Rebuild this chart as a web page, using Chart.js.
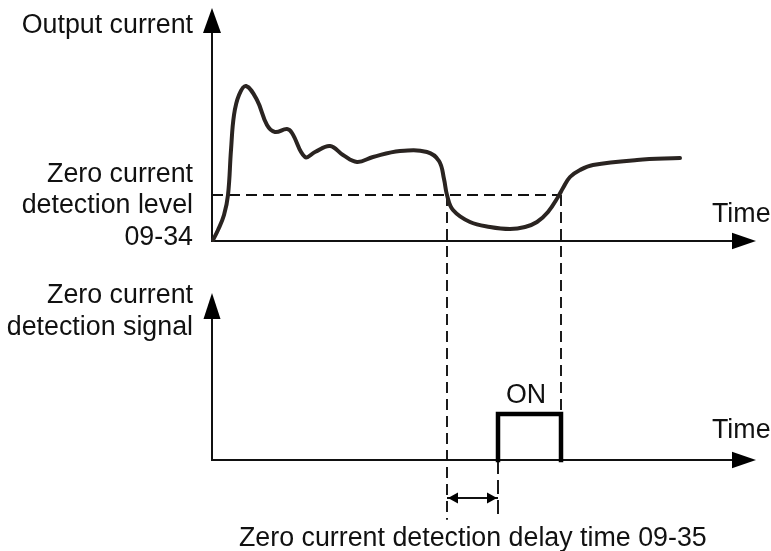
<!DOCTYPE html>
<html>
<head>
<meta charset="utf-8">
<script src="https://cdn.jsdelivr.net/npm/chart.js@4.4.1/dist/chart.umd.min.js"></script>
<style>
  html, body { margin: 0; padding: 0; background: #fff; }
  #wrap { width: 771px; height: 551px; }
</style>
</head>
<body>
<div id="wrap"><canvas id="chart" width="771" height="551"></canvas></div>
<script>
// time in arbitrary units, 0 = the vertical axes
const curveTime = [0.1, 0.6, 1.2, 1.6, 1.9, 2.2, 2.7, 3.4, 4.5, 5.5, 6.3, 7.5, 8.0, 9.3, 10.3, 11.8,
  13.1, 14.5, 16.1, 18.8, 21.5, 22.7, 23.2, 23.5, 24.1, 25.8, 27.8, 29.8, 31.3, 32.5, 33.6, 34.6,
  35.1, 35.8, 36.8, 38.1, 42.5, 46.8];
const curveCurrent = [0.1, 1.1, 2.6, 4.6, 9.1, 12.6, 14.6, 15.5, 14.1, 11.6, 10.9, 11.2, 10.8, 8.4, 8.9, 9.5,
  8.6, 7.9, 8.4, 9.0, 8.9, 8.0, 6.2, 4.6, 3.1, 1.9, 1.4, 1.2, 1.4, 1.9, 2.9, 4.4,
  5.3, 6.4, 7.1, 7.6, 8.1, 8.3];

const detectionLevel = 4.6;   // 09-34
const belowLevelStart = 23.5; // current falls under the level
const belowLevelEnd = 34.9;   // current rises above the level
const delayTime = 5.1;        // 09-35
const onTime = belowLevelStart + delayTime;
const signalOn = 1;

const timeAxisEnd = 54.4;
const currentAxisTop = 23.3;
const signalAxisTop = 3.63;
const guideBottom = -1.3;      // signal units
const delayArrowLevel = -0.83; // signal units

// visible ranges of the three scales
const timeRange = [-21.2, 55.9];
const currentRange = [-31, 24.1];
const signalRange = [-1.98, 10];

function currentToSignal(v) {
  return signalRange[0] + (v - currentRange[0]) * (signalRange[1] - signalRange[0]) / (currentRange[1] - currentRange[0]);
}

const FONT = '26.8px "Liberation Sans", Arial, sans-serif';
const INK = '#111';

function pts(xs, ys) {
  return xs.map((x, i) => ({ x: x, y: ys[i] }));
}

const thin = { pointRadius: 0, borderColor: INK, borderWidth: 1.9, tension: 0, fill: false };
const DASH = [11, 6];

const datasets = [
  Object.assign({}, thin, {
    label: 'pulse', yAxisID: 'ys', order: 0, borderWidth: 4.5,
    borderJoinStyle: 'miter', borderCapStyle: 'square', borderColor: '#000',
    data: pts([onTime, onTime, belowLevelEnd, belowLevelEnd], [0, signalOn, signalOn, 0])
  }),
  Object.assign({}, thin, {
    label: 'current', yAxisID: 'y', order: 1, borderWidth: 4, borderColor: '#2a2421',
    tension: 0.4, borderCapStyle: 'round',
    data: pts(curveTime, curveCurrent)
  }),
  Object.assign({}, thin, {
    label: 'level', yAxisID: 'y', order: 2, borderDash: DASH,
    data: pts([0, belowLevelEnd], [detectionLevel, detectionLevel])
  }),
  Object.assign({}, thin, {
    label: 'guide start', yAxisID: 'ys', order: 2, borderDash: DASH,
    data: pts([belowLevelStart, belowLevelStart], [currentToSignal(detectionLevel), guideBottom])
  }),
  Object.assign({}, thin, {
    label: 'guide end', yAxisID: 'ys', order: 2, borderDash: DASH,
    data: pts([belowLevelEnd, belowLevelEnd], [currentToSignal(detectionLevel), signalOn])
  }),
  Object.assign({}, thin, {
    label: 'guide on', yAxisID: 'ys', order: 2, borderDash: [14, 6],
    data: pts([onTime, onTime], [0, guideBottom])
  }),
  Object.assign({}, thin, {
    label: 'delay', yAxisID: 'ys', order: 2, borderWidth: 2,
    data: pts([belowLevelStart, onTime], [delayArrowLevel, delayArrowLevel])
  }),
  Object.assign({}, thin, {
    label: 'current axes', yAxisID: 'y', order: 3, borderWidth: 2,
    data: pts([0, 0, timeAxisEnd - 1.5], [currentAxisTop - 1.5, 0, 0])
  }),
  Object.assign({}, thin, {
    label: 'signal axes', yAxisID: 'ys', order: 3, borderWidth: 2,
    data: pts([0, 0, timeAxisEnd - 1.5], [signalAxisTop - 0.3, 0, 0])
  })
];

function arrowHead(ctx, tx, ty, dx, dy, len, half) {
  const bx = tx - dx * len, by = ty - dy * len;
  ctx.beginPath();
  ctx.moveTo(tx, ty);
  ctx.lineTo(bx - dy * half, by + dx * half);
  ctx.lineTo(bx + dy * half, by - dx * half);
  ctx.closePath();
  ctx.fill();
}

const diagram = {
  id: 'diagram',
  afterDatasetsDraw(chart) {
    const ctx = chart.ctx;
    const sx = chart.scales.x, sy = chart.scales.y, ss = chart.scales.ys;
    ctx.save();
    ctx.fillStyle = '#000';
    // axis arrows
    arrowHead(ctx, sx.getPixelForValue(0), sy.getPixelForValue(currentAxisTop), 0, -1, 25, 9);
    arrowHead(ctx, sx.getPixelForValue(timeAxisEnd), sy.getPixelForValue(0), 1, 0, 24, 8.3);
    arrowHead(ctx, sx.getPixelForValue(0), ss.getPixelForValue(signalAxisTop), 0, -1, 26, 8.5);
    arrowHead(ctx, sx.getPixelForValue(timeAxisEnd), ss.getPixelForValue(0), 1, 0, 24, 8.3);
    // delay arrow
    const ay = ss.getPixelForValue(delayArrowLevel);
    arrowHead(ctx, sx.getPixelForValue(belowLevelStart) + 1, ay, -1, 0, 10, 5.5);
    arrowHead(ctx, sx.getPixelForValue(onTime) - 1, ay, 1, 0, 10, 5.5);

    // texts
    ctx.fillStyle = INK;
    ctx.font = FONT;
    ctx.textBaseline = 'alphabetic';
    ctx.textAlign = 'right';
    ctx.fillText('Output current', 193, 33);
    ctx.fillText('Zero current', 193, 182);
    ctx.fillText('detection level', 193, 213);
    ctx.fillText('09-34', 193, 245);
    ctx.fillText('Zero current', 193, 303);
    ctx.fillText('detection signal', 193, 335);
    ctx.textAlign = 'left';
    ctx.fillText('Time', 712, 222);
    ctx.fillText('Time', 712, 438);
    ctx.fillText('ON', 506, 403);
    ctx.fillText('Zero current detection delay time 09-35', 239, 546);
    ctx.restore();
  }
};

new Chart(document.getElementById('chart'), {
  type: 'line',
  data: { datasets: datasets },
  options: {
    responsive: false,
    animation: false,
    events: [],
    devicePixelRatio: 1,
    layout: { padding: 0 },
    plugins: { legend: { display: false }, tooltip: { enabled: false } },
    scales: {
      x: { type: 'linear', display: false, min: timeRange[0], max: timeRange[1] },
      y: { type: 'linear', display: false, min: currentRange[0], max: currentRange[1] },
      ys: { type: 'linear', display: false, min: signalRange[0], max: signalRange[1] }
    }
  },
  plugins: [diagram]
});
</script>
</body>
</html>
